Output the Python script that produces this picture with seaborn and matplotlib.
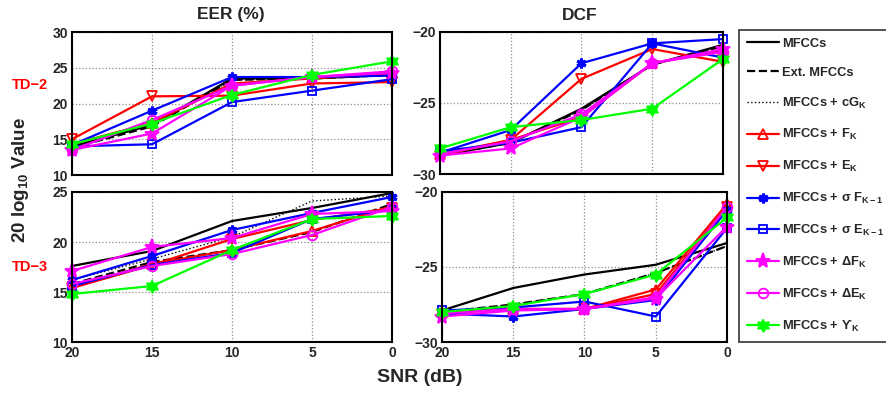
import numpy as np
import pandas as pd
import matplotlib
matplotlib.use("Agg")
import matplotlib.pyplot as plt
from matplotlib.lines import Line2D
import seaborn as sns

sns.set_theme(style="white")
plt.rcParams['font.family'] = ['Liberation Sans', 'DejaVu Sans']
plt.rcParams['font.weight'] = 'bold'
plt.rcParams['mathtext.fontset'] = 'custom'
plt.rcParams['mathtext.rm'] = 'Liberation Sans:bold'
plt.rcParams['mathtext.bf'] = 'Liberation Sans:bold'
plt.rcParams['mathtext.it'] = 'Liberation Sans:bold'
plt.rcParams['mathtext.sf'] = 'Liberation Sans:bold'
plt.rcParams['mathtext.fallback'] = 'stix'
plt.rcParams['mathtext.default'] = 'bf'

snr = [20, 15, 10, 5, 0]
series_keys = ["mfcc", "ext", "cg", "fk", "ek", "sf", "se", "df", "de", "up"]
series_labels = [
    "MFCCs", "Ext. MFCCs", r"MFCCs + cG$_{\mathbf{K}}$", r"MFCCs + F$_{\mathbf{K}}$",
    r"MFCCs + E$_{\mathbf{K}}$", "MFCCs + \u03c3 F$_{\\mathbf{K\u2212 1}}$",
    "MFCCs + \u03c3 E$_{\\mathbf{K\u2212 1}}$", "MFCCs + \u0394F$_{\\mathbf{K}}$",
    "MFCCs + \u0394E$_{\\mathbf{K}}$", "MFCCs + \u03d2$_{\\mathbf{K}}$",
]

eer_td2 = {
    "mfcc": [14.0, 17.0, 23.5, 23.5, 24.0],
    "ext":  [13.8, 16.8, 23.3, 23.5, 24.0],
    "cg":   [14.0, 17.0, 23.3, 23.5, 24.0],
    "fk":   [14.3, 17.3, 22.8, 23.5, 24.2],
    "ek":   [15.0, 21.0, 21.1, 22.8, 23.0],
    "sf":   [14.2, 19.0, 23.7, 23.7, 23.9],
    "se":   [14.0, 14.3, 20.2, 21.8, 23.4],
    "df":   [13.5, 15.8, 22.5, 23.7, 24.3],
    "de":   [13.5, 17.7, 22.5, 23.7, 24.5],
    "up":   [14.3, 17.2, 21.2, 24.0, 25.9],
}
dcf_td2 = {
    "mfcc": [-28.7, -27.8, -25.4, -22.3, -20.9],
    "ext":  [-28.7, -27.8, -25.5, -22.3, -21.0],
    "cg":   [-28.7, -27.8, -25.5, -22.3, -21.0],
    "fk":   [-28.6, -27.6, -26.0, -22.2, -21.3],
    "ek":   [-28.7, -27.6, -23.3, -21.2, -22.1],
    "sf":   [-28.5, -26.9, -22.2, -20.8, -21.8],
    "se":   [-28.4, -27.8, -26.7, -20.8, -20.5],
    "df":   [-28.7, -28.2, -26.0, -22.2, -21.2],
    "de":   [-28.6, -27.7, -25.8, -22.2, -21.4],
    "up":   [-28.2, -26.7, -26.2, -25.4, -21.9],
}
eer_td3 = {
    "mfcc": [17.6, 19.1, 22.1, 23.4, 24.9],
    "ext":  [15.8, 18.0, 19.2, 21.0, 23.8],
    "cg":   [16.2, 18.3, 20.5, 24.1, 24.6],
    "fk":   [15.5, 17.8, 19.2, 21.1, 23.6],
    "ek":   [15.4, 17.7, 20.3, 22.2, 23.4],
    "sf":   [16.2, 18.6, 21.2, 22.9, 24.5],
    "se":   [15.6, 17.7, 18.9, 22.3, 23.2],
    "df":   [17.1, 19.5, 20.4, 22.8, 23.1],
    "de":   [15.8, 17.6, 18.8, 20.7, 23.5],
    "up":   [14.8, 15.6, 19.2, 22.3, 22.6],
}
dcf_td3 = {
    "mfcc": [-27.9, -26.4, -25.5, -24.85, -23.4],
    "ext":  [-28.0, -27.5, -26.8, -25.4, -23.6],
    "cg":   [-28.0, -27.5, -26.8, -25.4, -23.6],
    "fk":   [-28.0, -27.8, -27.8, -26.5, -20.8],
    "ek":   [-28.1, -27.8, -27.8, -26.8, -21.0],
    "sf":   [-28.1, -28.3, -27.8, -27.2, -21.2],
    "se":   [-27.9, -27.7, -27.3, -28.3, -22.4],
    "df":   [-28.3, -27.9, -27.8, -27.1, -22.3],
    "de":   [-28.1, -27.8, -27.8, -27.0, -21.0],
    "up":   [-28.0, -27.6, -26.8, -25.5, -21.7],
}

# hexagram marker
ang = np.deg2rad(90 + 30 * np.arange(12))
rad = np.where(np.arange(12) % 2 == 0, 1.0, 0.577)
hexagram = np.column_stack([rad * np.cos(ang), rad * np.sin(ang)])

styles = {
    "mfcc": dict(color="black", ls="-", marker=None),
    "ext":  dict(color="black", ls="--", marker=None),
    "cg":   dict(color="black", ls=":", marker=None, lw=1.0),
    "fk":   dict(color="#FF0000", ls="-", marker="^", mfc="none", ms=7),
    "ek":   dict(color="#FF0000", ls="-", marker="v", mfc="none", ms=7),
    "sf":   dict(color="#0000FF", ls="-", marker=(6, 2, 0), mfc="#0000FF", ms=7, mew=2.2),
    "se":   dict(color="#0000FF", ls="-", marker="s", mfc="none", ms=6),
    "df":   dict(color="#FF00FF", ls="-", marker="*", mfc="#FF00FF", ms=11),
    "de":   dict(color="#FF00FF", ls="-", marker="o", mfc="none", ms=7),
    "up":   dict(color="#00FF00", ls="-", marker=hexagram, mfc="#00FF00", ms=9),
}

fig = plt.figure(figsize=(8.87, 3.93), dpi=100)
W, H = 887.0, 393.0
def box(x0, x1, y0, y1):
    return [x0 / W, 1 - y1 / H, (x1 - x0) / W, (y1 - y0) / H]

panels = [
    (box(72, 392, 32, 175), eer_td2, (10, 30), [10, 15, 20, 25, 30], False),
    (box(440, 723, 32, 174), dcf_td2, (-30, -20), [-30, -25, -20], False),
    (box(72, 392, 192, 342), eer_td3, (10, 25), [10, 15, 20, 25], True),
    (box(442, 727, 192, 342), dcf_td3, (-30, -20), [-30, -25, -20], True),
]

for rect, data, ylim, yticks, xlab in panels:
    ax = fig.add_axes(rect)
    for key in series_keys:
        st = dict(styles[key])
        df = pd.DataFrame({"snr": snr, "value": data[key]})
        kw = dict(color=st["color"], linestyle=st["ls"], linewidth=st.get("lw", 1.6))
        if st["marker"] is not None:
            kw.update(marker=st["marker"], markersize=st["ms"],
                      markerfacecolor=st["mfc"], markeredgecolor=st["color"],
                      markeredgewidth=st.get("mew", 1.3))
        sns.lineplot(data=df, x="snr", y="value", ax=ax, sort=False,
                     clip_on=False, legend=False, **kw)
    ax.set_xlim(20, 0)
    ax.set_ylim(*ylim)
    ax.set_xticks(snr)
    ax.set_yticks(yticks)
    ax.set_xlabel("")
    ax.set_ylabel("")
    ax.grid(True, linestyle=":", color="0.55", linewidth=0.9)
    ax.tick_params(direction="in", length=3, labelsize=10, width=1, pad=3)
    if not xlab:
        ax.set_xticklabels([])
    else:
        ax.set_xticklabels([str(v) for v in snr], fontweight="bold")
    for lab in ax.get_yticklabels():
        lab.set_fontweight("bold")
    for sp in ax.spines.values():
        sp.set_color("black")
        sp.set_linewidth(1.5)
    ax.set_facecolor("white")

fig.text(231 / W, 1 - 15 / H, "EER (%)", ha="center", va="center", fontsize=12.5, fontweight="bold")
fig.text(580 / W, 1 - 15 / H, "DCF", ha="center", va="center", fontsize=12.5, fontweight="bold")
fig.text(30 / W, 1 - 85 / H, "TD\u22122", ha="center", va="center", fontsize=10.5, fontweight="bold", color="#FF0000")
fig.text(30 / W, 1 - 267 / H, "TD\u22123", ha="center", va="center", fontsize=10.5, fontweight="bold", color="#FF0000")
fig.text(21 / W, 1 - 180 / H, r"20 log$_{\mathbf{10}}$ Value", rotation=90, ha="center", va="center",
         fontsize=13.5, fontweight="bold")
fig.text(420 / W, 1 - 378 / H, "SNR (dB)", ha="center", va="center", fontsize=14, fontweight="bold")

handles = []
for key in series_keys:
    st = styles[key]
    kw = dict(color=st["color"], linestyle=st["ls"], linewidth=st.get("lw", 1.6))
    if st["marker"] is not None:
        kw.update(marker=st["marker"], markersize=st["ms"], markerfacecolor=st["mfc"],
                  markeredgecolor=st["color"], markeredgewidth=st.get("mew", 1.3))
    handles.append(Line2D([], [], **kw))

leg = fig.legend(handles, series_labels, loc="upper left",
                 bbox_to_anchor=(739 / W, 1 - 30 / H), frameon=True, fancybox=False,
                 prop=dict(weight="bold", size=9.3), labelspacing=1.3, handlelength=2.5,
                 handletextpad=0.25, borderpad=0.6, borderaxespad=0.0)
leg.get_frame().set_edgecolor("black")
leg.get_frame().set_linewidth(1.2)

fig.savefig("out.png", dpi=100, facecolor="white")
